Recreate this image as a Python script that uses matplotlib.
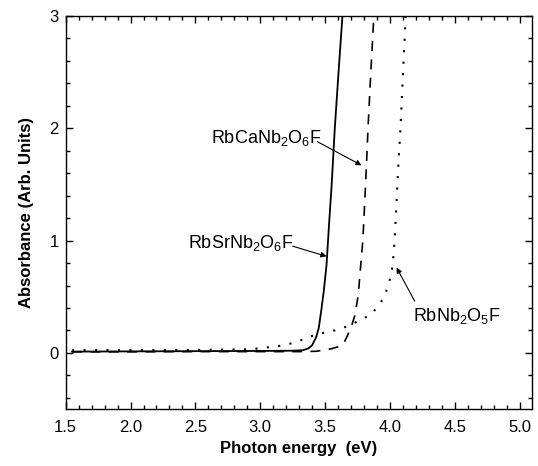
import matplotlib
matplotlib.use("Agg")
import matplotlib.pyplot as plt
from matplotlib.ticker import MultipleLocator

plt.rcParams['font.family'] = ['Liberation Sans', 'DejaVu Sans']
plt.rcParams['mathtext.fontset'] = 'custom'
plt.rcParams['mathtext.rm'] = 'Liberation Sans'
plt.rcParams['mathtext.it'] = 'Liberation Sans'

# RbSrNb2O6F (solid)
e_sr = [1.55, 2.0, 2.5, 3.0, 3.25, 3.33, 3.37, 3.40, 3.43, 3.45, 3.47, 3.49,
        3.51, 3.53, 3.55, 3.574, 3.60, 3.633]
a_sr = [0.012, 0.014, 0.016, 0.018, 0.02, 0.025, 0.04, 0.07, 0.14, 0.22, 0.38,
        0.56, 0.78, 1.15, 1.5, 2.0, 2.45, 3.0]

# RbCaNb2O6F (dashed)
e_ca = [1.55, 2.0, 2.5, 3.0, 3.3, 3.43, 3.54, 3.60, 3.64, 3.67, 3.70, 3.73,
        3.755, 3.775, 3.79, 3.805, 3.818, 3.83, 3.845, 3.86, 3.875]
a_ca = [0.01, 0.01, 0.012, 0.012, 0.012, 0.015, 0.035, 0.055, 0.08, 0.15, 0.23,
        0.34, 0.52, 0.80, 1.0, 1.35, 1.67, 2.0, 2.35, 2.68, 3.0]

# RbNb2O5F (dotted)
e_nb = [1.55, 2.0, 2.5, 2.92, 3.0, 3.15, 3.23, 3.30, 3.38, 3.45, 3.535, 3.625,
        3.70, 3.77, 3.86, 3.93, 3.97, 4.00, 4.02, 4.035, 4.05, 4.065, 4.08,
        4.10, 4.12]
a_nb = [0.025, 0.025, 0.027, 0.033, 0.042, 0.063, 0.083, 0.107, 0.145, 0.17,
        0.19, 0.215, 0.255, 0.29, 0.35, 0.45, 0.55, 0.66, 0.78, 1.0, 1.35, 1.7,
        2.0, 2.5, 3.0]

fig = plt.figure(figsize=(5.38, 4.66), dpi=100)
ax = fig.add_axes([0.122, 0.122, 0.866, 0.844])

ax.plot(e_sr, a_sr, color='black', lw=1.3)
ax.plot(e_ca, a_ca, color='black', lw=1.2, linestyle=(0, (6, 5)))
ax.plot(e_nb, a_nb, color='black', lw=1.5, linestyle=(0, (1, 4.5)))

ax.set_xlim(1.5, 5.09)
ax.set_ylim(-0.5, 3)
ax.xaxis.set_major_locator(MultipleLocator(0.5))
ax.xaxis.set_minor_locator(MultipleLocator(0.1))
ax.yaxis.set_major_locator(MultipleLocator(1))
ax.yaxis.set_minor_locator(MultipleLocator(0.2))
ax.xaxis.set_major_formatter(matplotlib.ticker.FormatStrFormatter('%.1f'))
ax.tick_params(which='both', direction='in', top=True, right=True, width=1)
ax.tick_params(which='major', length=5, labelsize=12)
ax.tick_params(which='minor', length=3)
ax.tick_params(axis='x', pad=8)
ax.tick_params(axis='y', pad=5)
for s in ax.spines.values():
    s.set_linewidth(1.0)

ax.set_xlabel('Photon energy  (eV)', fontsize=12, fontweight='bold', labelpad=4)
ax.set_ylabel('Absorbance (Arb. Units)', fontsize=12, fontweight='bold', labelpad=11)

arrow = dict(arrowstyle='-|>', color='black', lw=0.8, mutation_scale=8,
             shrinkA=0, shrinkB=0)
ax.text(2.62, 1.87, 'RbCaNb$_2$O$_6$F', fontsize=13, va='baseline')
ax.annotate('', xy=(3.78, 1.67), xytext=(3.44, 1.88), arrowprops=arrow)
ax.text(2.44, 0.93, 'RbSrNb$_2$O$_6$F', fontsize=13, va='baseline')
ax.annotate('', xy=(3.51, 0.86), xytext=(3.25, 0.95), arrowprops=arrow)
ax.text(4.18, 0.28, 'RbNb$_2$O$_5$F', fontsize=13, va='baseline')
ax.annotate('', xy=(4.05, 0.76), xytext=(4.19, 0.46), arrowprops=arrow)

fig.savefig('out.png', dpi=100)
